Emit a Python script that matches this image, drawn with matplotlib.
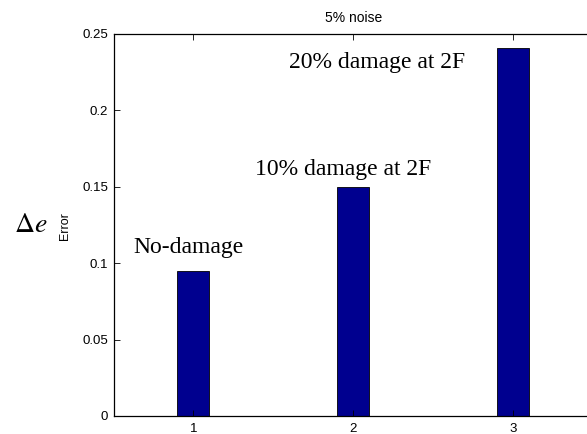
import matplotlib
matplotlib.use('Agg')
import matplotlib.pyplot as plt

# data
cases = [1, 2, 3]
errors = [0.095, 0.150, 0.241]
labels = ['No-damage', '10% damage at 2F', '20% damage at 2F']
label_x = [0.622, 1.384, 1.597]
label_y = [0.1065, 0.1577, 0.2277]
yticks = [0, 0.05, 0.1, 0.15, 0.2, 0.25]
ytick_labels = ['0', '0.05', '0.1', '0.15', '0.2', '0.25']

plt.rcParams['font.family'] = ['Liberation Sans', 'DejaVu Sans']
plt.rcParams['mathtext.fontset'] = 'stix'

fig = plt.figure(figsize=(5.87, 4.34), dpi=100)
# axes runs past the right border like the cropped original
ax = fig.add_axes([113.5/587, 18/434, 479.5/587, 382/434])

ax.bar(cases, errors, width=0.2, color='#00008F', edgecolor='black', linewidth=0.6)

for x, y, t in zip(label_x, label_y, labels):
	ax.text(x, y, t, fontsize=17, family='Liberation Serif', ha='left', va='baseline')

ax.set_xlim(0.5, 3.5)
ax.set_ylim(0, 0.25)
ax.set_xticks(cases)
ax.set_yticks(yticks)
ax.set_yticklabels(ytick_labels)
ax.tick_params(direction='in', length=4, width=0.6, labelsize=9.5, top=True, right=False)
ax.tick_params(axis='y', pad=4)
ax.tick_params(axis='x', pad=5)
for s in ax.spines.values():
	s.set_linewidth(0.9)

ax.set_title('5% noise', fontsize=10, pad=8.5)
fig.text(65/587, (434-226)/434, 'Error', rotation=90, fontsize=9, ha='center', va='center')
fig.text(14/587, (434-232)/434, r'$\Delta e$', fontsize=20, ha='left', va='baseline')

fig.savefig('out.png', dpi=100)
